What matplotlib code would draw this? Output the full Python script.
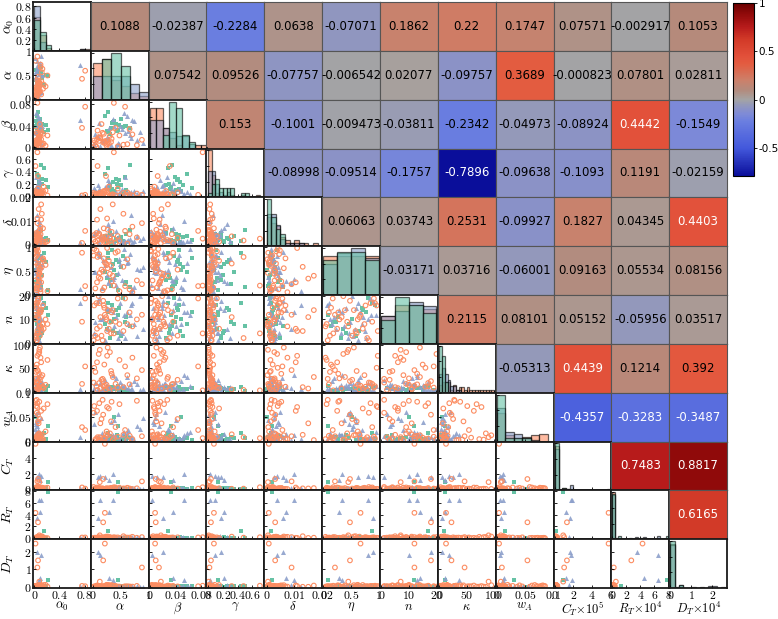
import numpy as np
import matplotlib.pyplot as plt
from matplotlib.colors import LinearSegmentedColormap, Normalize
from matplotlib.cm import ScalarMappable
from matplotlib.ticker import FuncFormatter

plt.rcParams['mathtext.fontset'] = 'cm'

ylabels = [r'$\alpha_0$', r'$\alpha$', r'$\beta$', r'$\gamma$', r'$\delta$', r'$\eta$',
           r'$n$', r'$\kappa$', r'$w_A$', r'$C_T$', r'$R_T$', r'$D_T$']
xlabels = [r'$\alpha_0$', r'$\alpha$', r'$\beta$', r'$\gamma$', r'$\delta$', r'$\eta$',
           r'$n$', r'$\kappa$', r'$w_A$', r'$C_T{\times}10^5$', r'$R_T{\times}10^4$',
           r'$D_T{\times}10^4$']

axis_ticks = [[0, 0.4, 0.8], [0, 0.5, 1], [0, 0.04, 0.08], [0, 0.2, 0.4, 0.6],
              [0, 0.01, 0.02], [0, 0.5, 1], [0, 10, 20], [0, 50, 100],
              [0, 0.05, 0.1], [0, 2, 4, 6], [0, 2, 4, 6, 8], [0, 1, 2]]

# upper triangle correlation coefficients, row by row
corr_a0 = [0.1088, -0.02387, -0.2284, 0.0638, -0.07071, 0.1862, 0.22, 0.1747, 0.07571, -0.002917, 0.1053]
corr_al = [0.07542, 0.09526, -0.07757, -0.006542, 0.02077, -0.09757, 0.3689, -0.000823, 0.07801, 0.02811]
corr_be = [0.153, -0.1001, -0.009473, -0.03811, -0.2342, -0.04973, -0.08924, 0.4442, -0.1549]
corr_ga = [-0.08998, -0.09514, -0.1757, -0.7896, -0.09638, -0.1093, 0.1191, -0.02159]
corr_de = [0.06063, 0.03743, 0.2531, -0.09927, 0.1827, 0.04345, 0.4403]
corr_et = [-0.03171, 0.03716, -0.06001, 0.09163, 0.05534, 0.08156]
corr_n = [0.2115, 0.08101, 0.05152, -0.05956, 0.03517]
corr_ka = [-0.05313, 0.4439, 0.1214, 0.392]
corr_wa = [-0.4357, -0.3283, -0.3487]
corr_ct = [0.7483, 0.8817]
corr_rt = [0.6165]
corr_rows = [corr_a0, corr_al, corr_be, corr_ga, corr_de, corr_et, corr_n,
             corr_ka, corr_wa, corr_ct, corr_rt]

# group 1 (orange circles)
a0_1 = [0.03, 0.05, 0.08, 0.02, 0.11, 0.06, 0.04, 0.09, 0.13, 0.07, 0.05, 0.03, 0.18, 0.10, 0.06, 0.02, 0.08, 0.12,
        0.04, 0.76, 0.07, 0.15, 0.05, 0.09, 0.03, 0.21, 0.06, 0.11, 0.04, 0.81, 0.08, 0.02, 0.14, 0.06, 0.10, 0.05]
al_1 = [0.05, 0.12, 0.31, 0.22, 0.08, 0.45, 0.18, 0.27, 0.62, 0.14, 0.38, 0.03, 0.25, 0.71, 0.19, 0.09, 0.34, 0.55,
        0.21, 0.41, 0.11, 0.29, 0.88, 0.16, 0.07, 0.48, 0.24, 0.36, 0.02, 0.58, 0.13, 0.79, 0.20, 0.33, 0.66, 0.26]
be_1 = [0.004, 0.012, 0.021, 0.008, 0.015, 0.002, 0.027, 0.010, 0.006, 0.018, 0.082, 0.013, 0.003, 0.024, 0.009,
        0.031, 0.016, 0.005, 0.011, 0.036, 0.019, 0.007, 0.014, 0.043, 0.001, 0.022, 0.012, 0.028, 0.008, 0.075,
        0.017, 0.004, 0.025, 0.010, 0.034, 0.006]
ga_1 = [0.02, 0.05, 0.01, 0.08, 0.03, 0.12, 0.04, 0.01, 0.06, 0.02, 0.70, 0.03, 0.09, 0.01, 0.04, 0.48, 0.02, 0.05,
        0.07, 0.01, 0.03, 0.15, 0.02, 0.06, 0.04, 0.01, 0.32, 0.03, 0.05, 0.02, 0.01, 0.04, 0.08, 0.02, 0.03, 0.06]
de_1 = [0.0012, 0.0045, 0.0028, 0.0008, 0.0105, 0.0035, 0.0018, 0.0062, 0.0003, 0.0150, 0.0024, 0.0040, 0.0009,
        0.0075, 0.0031, 0.0016, 0.0053, 0.0130, 0.0022, 0.0006, 0.0038, 0.0011, 0.0090, 0.0027, 0.0048, 0.0014,
        0.0034, 0.0170, 0.0020, 0.0057, 0.0005, 0.0029, 0.0068, 0.0015, 0.0043, 0.0110]
et_1 = [0.12, 0.85, 0.43, 0.67, 0.25, 0.91, 0.08, 0.55, 0.74, 0.33, 0.18, 0.96, 0.62, 0.04, 0.48, 0.79, 0.27, 0.58,
        0.14, 0.88, 0.36, 0.71, 0.21, 0.52, 0.93, 0.06, 0.65, 0.39, 0.82, 0.17, 0.45, 0.29, 0.76, 0.60, 0.10, 0.98]
n_1 = [3, 17, 9, 12, 6, 19, 1, 14, 8, 11, 4, 16, 10, 7, 18, 2, 13, 5,
       15, 9, 20, 6, 12, 3, 17, 8, 11, 14, 1, 19, 7, 10, 16, 4, 13, 5]
ka_1 = [42, 18, 85, 12, 63, 8, 27, 95, 35, 6, 2, 51, 14, 73, 22, 3, 38, 9,
        58, 16, 81, 7, 46, 25, 11, 68, 4, 31, 19, 54, 90, 28, 10, 44, 15, 77]
wa_1 = [0.002, 0.078, 0.015, 0.004, 0.062, 0.008, 0.085, 0.011, 0.001, 0.036, 0.005, 0.072, 0.019, 0.003, 0.054,
        0.007, 0.081, 0.012, 0.006, 0.028, 0.002, 0.067, 0.009, 0.045, 0.004, 0.076, 0.013, 0.001, 0.058, 0.022,
        0.007, 0.083, 0.003, 0.040, 0.010, 0.070]
ct_1 = [0.08, 0.15, 0.04, 5.8, 0.21, 0.06, 0.11, 0.03, 0.18, 0.09, 0.25, 0.05, 0.13, 0.02, 1.3, 0.07, 0.16, 0.10,
        0.04, 0.22, 0.06, 0.12, 1.0, 0.08, 0.03, 0.19, 0.05, 0.14, 0.28, 0.07, 0.9, 0.11, 0.04, 0.17, 0.09, 0.02]
rt_1 = [0.10, 0.05, 0.22, 4.3, 0.08, 0.15, 0.03, 0.30, 0.12, 0.06, 0.18, 0.09, 0.02, 0.25, 2.7, 0.11, 0.07, 0.35,
        0.04, 0.13, 0.20, 0.06, 0.2, 0.16, 0.08, 0.03, 0.28, 0.10, 0.05, 0.14, 0.5, 0.09, 0.19, 0.04, 0.12, 0.07]
dt_1 = [0.03, 0.06, 0.01, 2.45, 0.08, 0.02, 0.05, 0.10, 0.04, 0.01, 0.07, 0.03, 0.12, 0.02, 1.5, 0.05, 0.09, 0.01,
        0.04, 0.06, 0.02, 0.11, 1.1, 0.03, 0.07, 0.02, 0.05, 0.08, 0.01, 0.04, 0.3, 0.06, 0.02, 0.09, 0.03, 0.05]

# group 2 (blue triangles)
a0_2 = [0.04, 0.07, 0.02, 0.09, 0.05, 0.03, 0.06, 0.08, 0.01, 0.11, 0.05, 0.04, 0.07, 0.03, 0.72,
        0.06, 0.02, 0.09, 0.05, 0.08, 0.03, 0.06, 0.04, 0.10, 0.07, 0.02, 0.05, 0.13, 0.03, 0.06]
al_2 = [0.18, 0.52, 0.33, 0.74, 0.09, 0.45, 0.61, 0.27, 0.85, 0.14, 0.39, 0.68, 0.22, 0.56, 0.71,
        0.05, 0.47, 0.30, 0.79, 0.12, 0.42, 0.64, 0.25, 0.90, 0.36, 0.58, 0.16, 0.49, 0.03, 0.66]
be_2 = [0.012, 0.034, 0.005, 0.048, 0.021, 0.009, 0.057, 0.015, 0.028, 0.003, 0.040, 0.018, 0.011, 0.063, 0.051,
        0.024, 0.007, 0.036, 0.014, 0.045, 0.002, 0.030, 0.019, 0.008, 0.053, 0.026, 0.013, 0.039, 0.006, 0.022]
ga_2 = [0.05, 0.12, 0.03, 0.08, 0.18, 0.02, 0.06, 0.25, 0.04, 0.10, 0.01, 0.07, 0.14, 0.03, 0.02,
        0.09, 0.05, 0.21, 0.04, 0.11, 0.06, 0.02, 0.16, 0.08, 0.03, 0.30, 0.05, 0.07, 0.13, 0.04]
de_2 = [0.0025, 0.0008, 0.0042, 0.0015, 0.0060, 0.0031, 0.0012, 0.0088, 0.0020, 0.0037, 0.0005, 0.0125, 0.0028,
        0.0016, 0.0010, 0.0048, 0.0022, 0.0071, 0.0034, 0.0009, 0.0055, 0.0018, 0.0040, 0.0026, 0.0100, 0.0013,
        0.0033, 0.0007, 0.0045, 0.0021]
et_2 = [0.72, 0.31, 0.58, 0.15, 0.89, 0.44, 0.66, 0.23, 0.51, 0.80, 0.37, 0.06, 0.62, 0.95, 0.10,
        0.48, 0.75, 0.28, 0.54, 0.84, 0.19, 0.69, 0.41, 0.57, 0.33, 0.77, 0.12, 0.63, 0.46, 0.86]
n_2 = [11, 4, 15, 8, 18, 2, 13, 6, 20, 10, 7, 16, 1, 12, 17, 9, 5, 14, 3, 19, 11, 8, 15, 6, 13, 2, 10, 17, 4, 12]
ka_2 = [8, 14, 3, 22, 5, 11, 30, 7, 2, 17, 9, 4, 25, 12, 6, 19, 1, 10, 15, 3, 28, 8, 13, 5, 36, 10, 4, 21, 7, 16]
wa_2 = [0.004, 0.012, 0.038, 0.002, 0.008, 0.055, 0.015, 0.001, 0.025, 0.006, 0.042, 0.003, 0.010, 0.018, 0.007,
        0.060, 0.002, 0.013, 0.031, 0.005, 0.009, 0.021, 0.001, 0.047, 0.011, 0.004, 0.016, 0.003, 0.035, 0.007]
ct_2 = [0.06, 0.12, 0.03, 0.18, 1.6, 0.09, 0.05, 0.14, 0.02, 1.7, 0.08, 0.21, 1.5, 0.04, 0.11,
        0.07, 0.16, 1.2, 0.03, 0.10, 0.25, 0.05, 0.13, 0.08, 1.9, 0.02, 0.15, 0.06, 0.09, 0.12]
rt_2 = [0.08, 0.15, 0.04, 0.22, 3.5, 0.11, 0.06, 0.18, 0.03, 6.5, 0.12, 0.09, 0.3, 0.05, 0.26,
        0.10, 0.02, 4.5, 0.14, 0.07, 0.20, 0.04, 0.33, 0.09, 6.5, 0.13, 0.06, 0.17, 0.02, 0.11]
dt_2 = [0.04, 0.02, 0.07, 0.01, 2.0, 0.05, 0.03, 0.09, 0.02, 1.8, 0.06, 0.01, 0.1, 0.04, 0.08,
        0.02, 0.05, 0.5, 0.03, 0.06, 0.01, 0.07, 0.04, 0.02, 0.4, 0.05, 0.03, 0.08, 0.01, 0.04]

# group 3 (green squares)
a0_3 = [0.06, 0.12, 0.04, 0.09, 0.15, 0.03, 0.07, 0.22, 0.05, 0.10, 0.08, 0.18, 0.02, 0.11, 0.06, 0.13, 0.04, 0.08]
al_3 = [0.25, 0.42, 0.33, 0.51, 0.28, 0.60, 0.37, 0.46, 0.22, 0.55, 0.31, 0.48, 0.39, 0.66, 0.27, 0.44, 0.35, 0.58]
be_3 = [0.031, 0.044, 0.036, 0.052, 0.028, 0.040, 0.047, 0.033, 0.058, 0.038, 0.025, 0.042, 0.049, 0.035, 0.065,
        0.030, 0.045, 0.039]
ga_3 = [0.12, 0.28, 0.06, 0.18, 0.45, 0.09, 0.22, 0.14, 0.35, 0.04, 0.17, 0.26, 0.08, 0.50, 0.13, 0.20, 0.11, 0.31]
de_3 = [0.0010, 0.0022, 0.0005, 0.0030, 0.0015, 0.0042, 0.0008, 0.0018, 0.0035, 0.0012, 0.0050, 0.0026, 0.0003,
        0.0060, 0.0020, 0.0014, 0.0038, 0.0007]
et_3 = [0.35, 0.72, 0.18, 0.58, 0.88, 0.26, 0.64, 0.09, 0.47, 0.81, 0.31, 0.69, 0.52, 0.14, 0.76, 0.40, 0.93, 0.22]
n_3 = [6, 14, 9, 3, 17, 11, 5, 12, 8, 19, 2, 15, 10, 7, 13, 4, 16, 9]
ka_3 = [3, 7, 1, 5, 9, 2, 4, 11, 6, 2, 8, 3, 5, 1, 7, 4, 10, 2]
wa_3 = [0.003, 0.001, 0.008, 0.002, 0.015, 0.004, 0.001, 0.030, 0.006, 0.002, 0.010, 0.003, 0.050, 0.005, 0.001,
        0.012, 0.004, 0.007]
ct_3 = [0.05, 0.10, 0.03, 0.14, 0.07, 0.02, 0.12, 0.9, 0.06, 0.09, 0.04, 0.18, 0.08, 0.03, 0.11, 0.06, 0.15, 0.05]
rt_3 = [0.06, 0.12, 0.04, 0.09, 1.2, 0.03, 0.15, 7.8, 0.07, 0.10, 0.05, 0.02, 0.13, 0.08, 0.04, 0.11, 0.06, 0.09]
dt_3 = [0.02, 0.04, 0.01, 0.06, 0.03, 0.05, 0.02, 0.4, 0.07, 0.01, 0.03, 0.05, 0.02, 0.04, 0.08, 0.01, 0.03, 0.06]

grp1 = [a0_1, al_1, be_1, ga_1, de_1, et_1, n_1, ka_1, wa_1, ct_1, rt_1, dt_1]
grp2 = [a0_2, al_2, be_2, ga_2, de_2, et_2, n_2, ka_2, wa_2, ct_2, rt_2, dt_2]
grp3 = [a0_3, al_3, be_3, ga_3, de_3, et_3, n_3, ka_3, wa_3, ct_3, rt_3, dt_3]
groups = [grp1, grp2, grp3]

# axis limits and histogram bins per variable
lims = [(-0.02, 0.9), (-0.03, 1.0), (-0.002, 0.088), (-0.02, 0.76), (-0.0008, 0.02), (-0.02, 1.02),
        (-0.5, 20.5), (-3, 103), (-0.002, 0.1), (-0.15, 6.1), (-0.15, 8.1), (-0.06, 2.7)]
nbins = [10, 6, 9, 15, 12, 4, 4, 20, 6, 15, 20, 13]
bin_range = [(0, 0.9), (0, 1), (0, 0.09), (0, 0.75), (0, 0.02), (0, 1),
             (0, 20), (0, 100), (0, 0.09), (0, 6), (0, 8), (0, 2.6)]

colors = ['#fc8d62', '#8da0cb', '#66c2a5']

cmap = LinearSegmentedColormap.from_list('corr', [
    (0.00, '#0a0e9a'), (0.16, '#4358dc'), (0.315, '#6a7ee0'), (0.36, '#7f8bd6'),
    (0.413, '#9599b8'), (0.441, '#a4a4a4'), (0.497, '#b38b7d'), (0.553, '#cc806a'),
    (0.648, '#e35c40'), (0.693, '#e2503a'), (0.79, '#d23a28'), (0.86, '#b81c1c'),
    (0.933, '#930b0b'), (1.00, '#6a0000')])
norm = Normalize(vmin=-0.79, vmax=1.0)

fig = plt.figure(figsize=(7.78, 6.19), dpi=100)
L, R, T, B = 33 / 778, 727 / 778, 1 - 2 / 619, 1 - 588 / 619
w, h = (R - L) / 12, (T - B) / 12
fmt = FuncFormatter(lambda v, p: r'$%g$' % v)

for i in range(12):
    for j in range(12):
        ax = fig.add_axes([L + j * w, T - (i + 1) * h, w, h])
        if j > i:
            r = corr_rows[i][j - i - 1]
            ax.set_facecolor(cmap(norm(r)))
            tc = 'white' if (r >= 0.4 or r <= -0.3) else 'black'
            ax.text(0.5, 0.5, '%g' % r, ha='center', va='center', fontsize=8.5,
                    color=tc, transform=ax.transAxes)
            ax.set_xticks([])
            ax.set_yticks([])
            for s in ax.spines.values():
                s.set_color('#555555')
                s.set_linewidth(0.8)
            continue
        if i == j:
            edges = np.linspace(bin_range[j][0], bin_range[j][1], nbins[j] + 1)
            top = 0
            for g, c in zip(groups, colors):
                vals = g[j]
                cnt, _, _ = ax.hist(vals, bins=edges, weights=np.ones(len(vals)) / len(vals),
                                    color=c, alpha=0.6, edgecolor='black', linewidth=0.9)
                top = max(top, cnt.max())
            ax.set_xlim(lims[j])
            if i == 0:
                ax.set_ylim(0, 0.88)
                ax.set_yticks([0.2, 0.4, 0.6, 0.8])
            else:
                ax.set_ylim(0, top * 1.04)
                ax.set_yticks(np.linspace(0, top, 4)[1:])
        else:
            ax.scatter(grp3[j], grp3[i], s=6, marker='s', color=colors[2], linewidths=0)
            ax.scatter(grp2[j], grp2[i], s=13, marker='^', color=colors[1], alpha=0.9, linewidths=0)
            ax.scatter(grp1[j], grp1[i], s=11, facecolors='none', edgecolors=colors[0], linewidths=0.8)
            ax.set_xlim(lims[j])
            ax.set_ylim(lims[i])
            ax.set_yticks(axis_ticks[i])
        ax.set_xticks(axis_ticks[j])
        ax.tick_params(direction='in', length=2.5, width=0.6, labelsize=8.5, pad=1)
        ax.xaxis.set_major_formatter(fmt)
        ax.yaxis.set_major_formatter(fmt)
        if i != 11:
            ax.tick_params(labelbottom=False)
        else:
            ax.set_xlabel(xlabels[j], fontsize=9)
            ax.xaxis.set_label_coords(0.5, -0.25)
        if j != 0:
            ax.tick_params(labelleft=False)
        else:
            ax.set_ylabel(ylabels[i], fontsize=10)
            ax.yaxis.set_label_coords(-0.30, 0.5)
        for s in ax.spines.values():
            s.set_linewidth(1.3)
            s.set_color('#1a1a1a')

cax = fig.add_axes([733 / 778, 1 - 176 / 619, 21 / 778, 173 / 619])
cb = fig.colorbar(ScalarMappable(norm=norm, cmap=cmap), cax=cax, ticks=[-0.5, 0, 0.5, 1])
cb.ax.yaxis.set_major_formatter(FuncFormatter(lambda v, p: '%g' % v))
cb.ax.tick_params(labelsize=7.5, length=2, width=0.6, pad=1.5)
cb.outline.set_linewidth(0.8)

fig.savefig('out.png', dpi=100)
